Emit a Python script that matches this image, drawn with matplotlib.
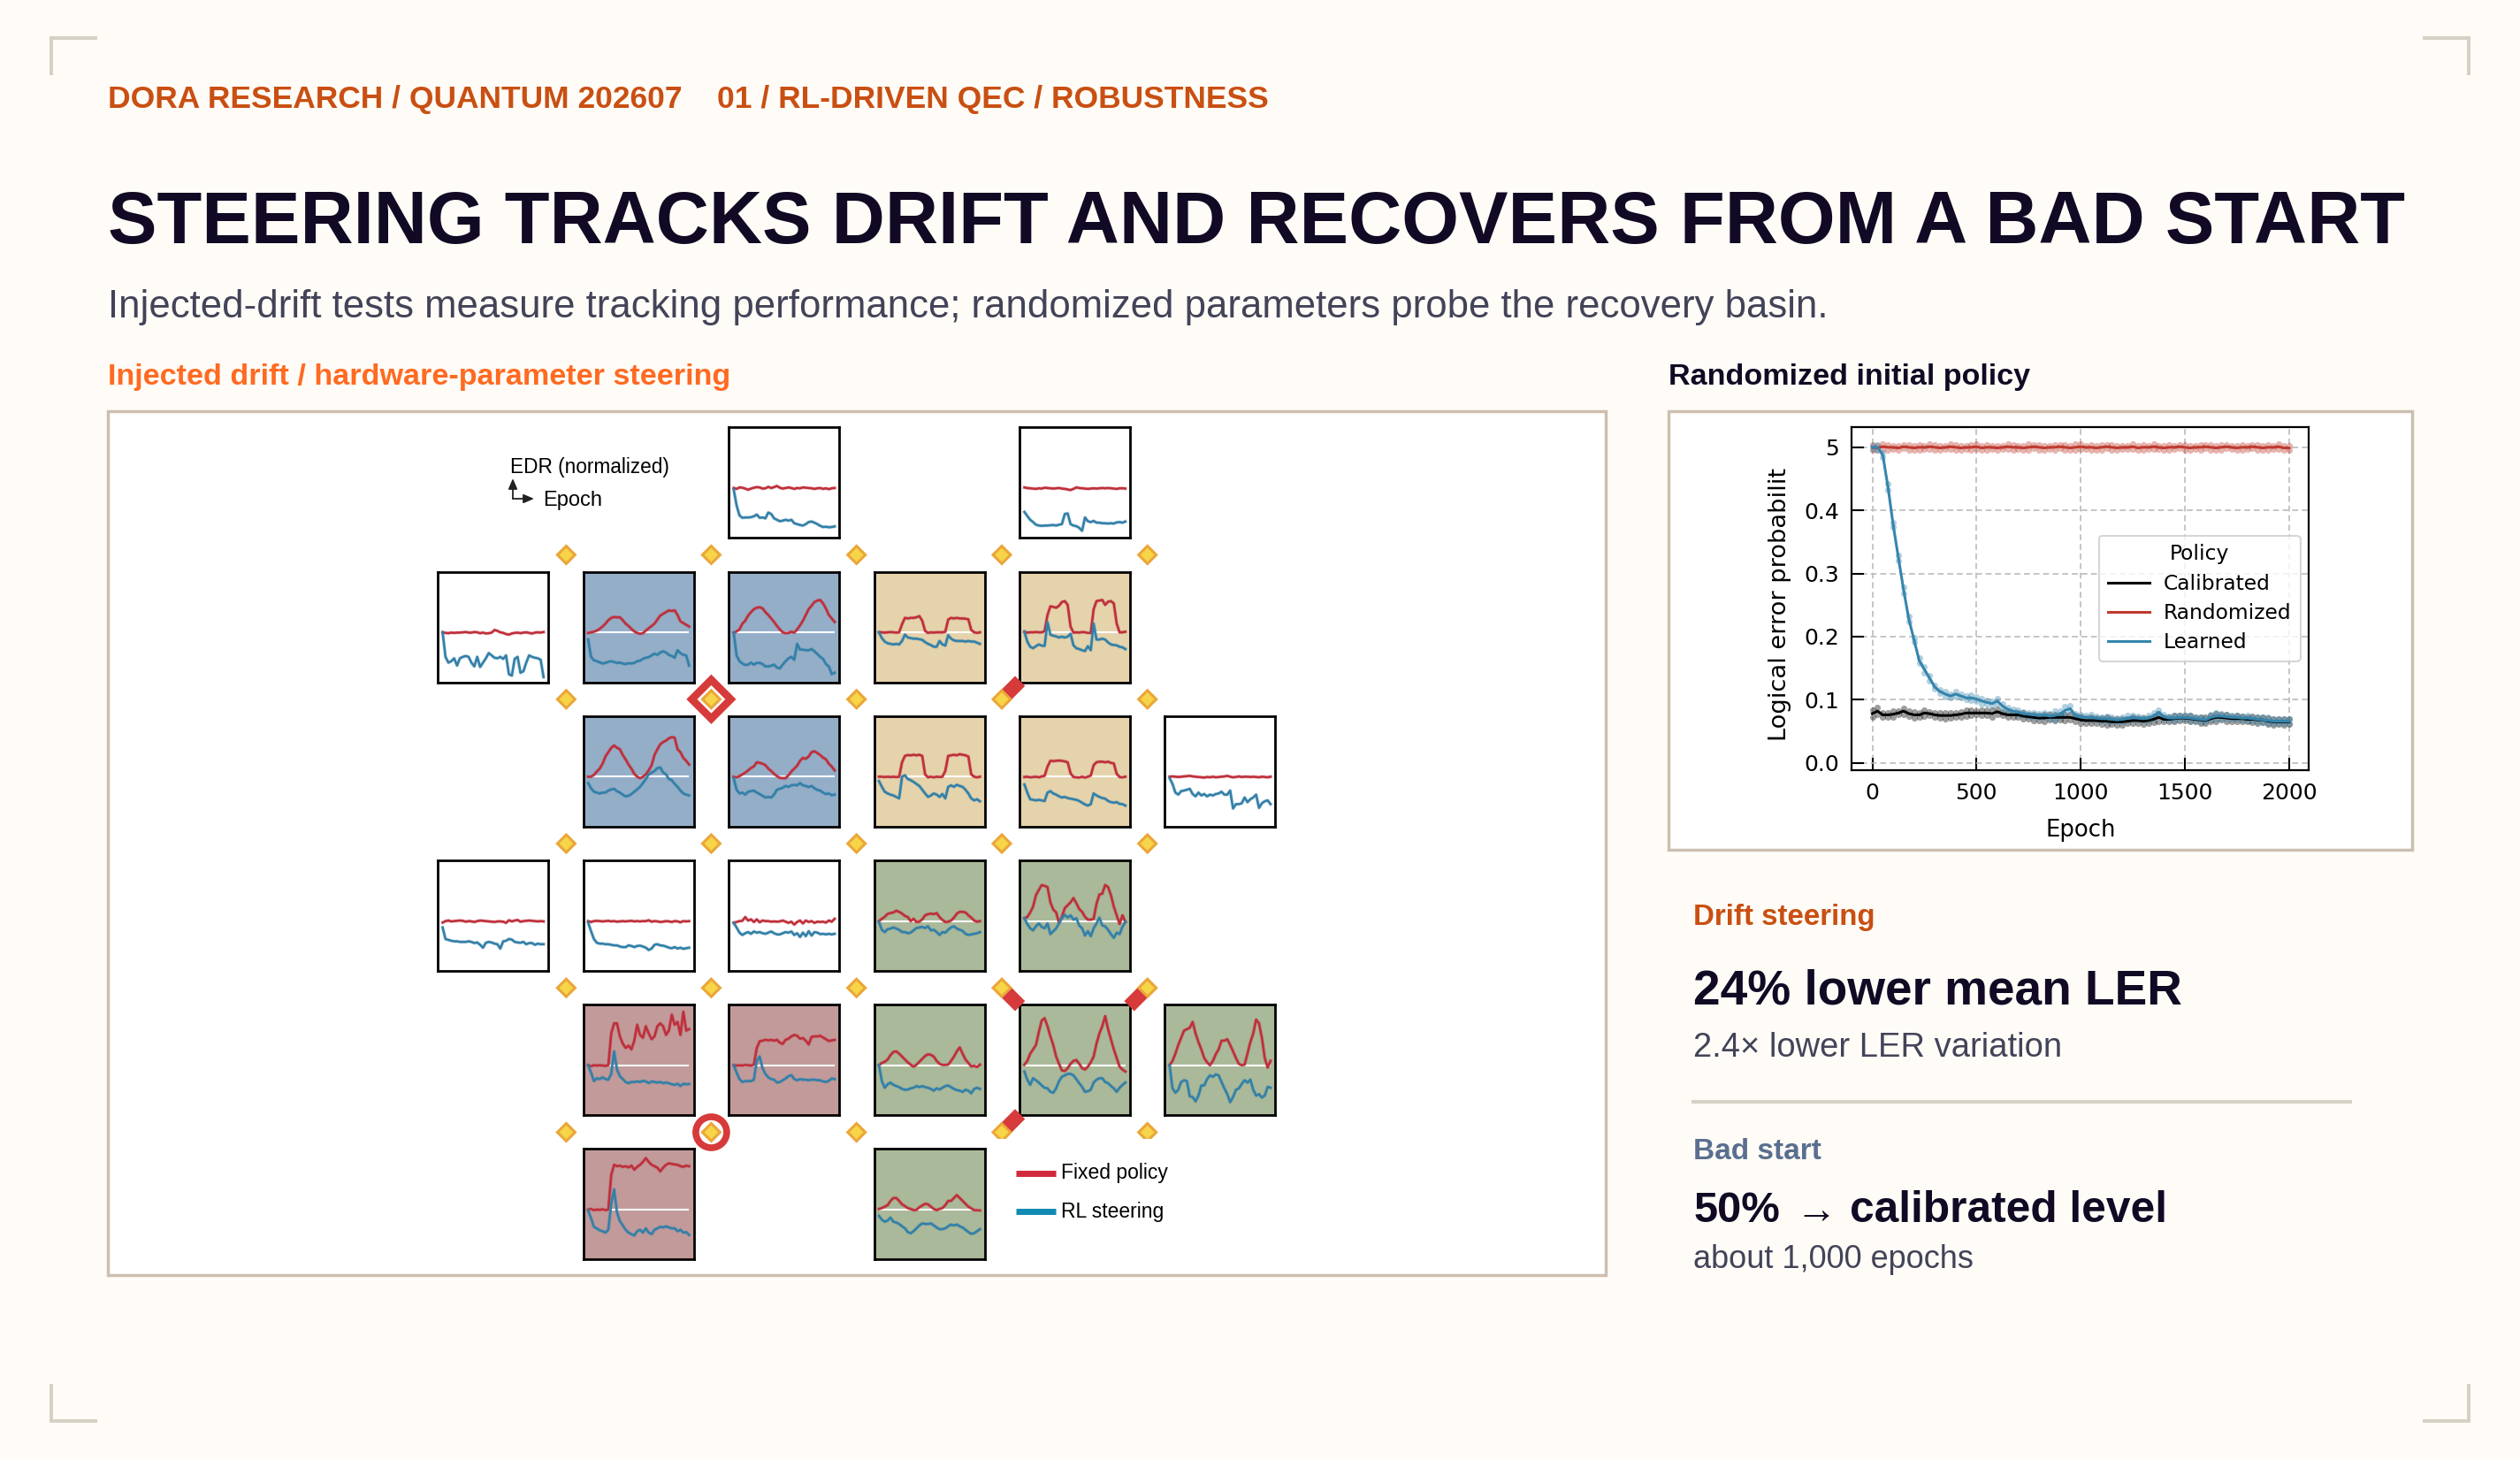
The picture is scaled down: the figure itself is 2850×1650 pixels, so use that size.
import numpy as np
import matplotlib
matplotlib.use('Agg')
import matplotlib.pyplot as plt
from matplotlib.patches import Rectangle, Polygon, Circle

W, H = 2850, 1650
BG = '#FFFCF7'
FRAME = '#CDBFB0'
RULE = '#D5D1C5'
INK = '#120A24'
SLATE = '#434358'
RUST = '#C94F12'
ORANGE = '#FF6A21'
STEEL = '#5A6F8F'
RED_LINE = '#BF2F3B'
BLUE_LINE = '#3380A8'

# traces are in hundredths of the panel's unit, 0 is the calibrated baseline
r0c2_red = [0,-3,2,1,-2,-6,-2,1,3,2,-2,-1,4,0,3,7,1,-2,0,2,0,-3,0,-1,2,1,0,-1,-3,-1,0,-3,-1,-4,-1,0]
r0c2_blue = [-5,-60,-95,-103,-102,-102,-101,-98,-92,-103,-102,-105,-85,-90,-105,-110,-115,-113,-110,-113,-110,-122,-125,-128,-130,-125,-118,-116,-120,-125,-131,-135,-134,-136,-135,-133]
r0c4_red = [2,0,-1,-2,-3,-1,-2,1,0,-1,-2,-1,0,-2,-3,-5,-7,-3,2,0,-1,-2,-3,-2,-1,-2,-1,0,-1,0,-1,-2,-3,-1,-1,-2]
r0c4_blue = [-83,-97,-110,-118,-127,-130,-131,-130,-130,-129,-128,-130,-127,-125,-90,-88,-125,-130,-132,-138,-148,-102,-115,-118,-114,-120,-120,-122,-122,-123,-122,-123,-119,-118,-120,-116]
r1c0_red = [0,-2,-3,-1,-2,-1,-1,0,1,-1,-1,1,0,-3,-1,-4,-3,-1,8,5,0,-2,-6,-8,-4,-2,-1,-3,-1,0,-2,-4,-1,0,-1,1]
r1c0_blue = [0,-85,-105,-100,-90,-115,-90,-85,-82,-85,-105,-118,-85,-120,-105,-90,-72,-80,-88,-90,-85,-92,-80,-145,-150,-92,-85,-140,-135,-105,-80,-85,-88,-90,-95,-155]
r1c1_red = [-2,0,2,6,12,20,30,42,50,53,52,52,42,30,22,12,3,-2,-5,-3,6,14,22,30,44,58,64,70,76,74,76,60,38,32,26,20]
r1c1_blue = [-25,-85,-97,-100,-104,-108,-106,-102,-100,-103,-106,-105,-108,-110,-107,-108,-106,-100,-98,-92,-88,-86,-80,-74,-78,-70,-66,-70,-78,-82,-88,-62,-72,-78,-80,-115]
r1c2_red = [-2,3,10,30,40,58,70,80,85,87,83,70,60,48,36,22,10,0,-3,-2,2,-1,10,24,40,60,80,92,105,110,112,100,82,60,48,36]
r1c2_blue = [0,-80,-100,-108,-113,-112,-105,-112,-106,-106,-110,-118,-118,-116,-112,-122,-125,-112,-100,-90,-85,-95,-40,-60,-60,-62,-62,-58,-66,-75,-85,-92,-110,-118,-145,-140]
r1c3_red = [0,0,-1,0,1,0,-1,0,28,50,48,50,50,52,56,40,5,-2,0,-1,0,0,0,2,44,50,48,50,48,48,47,45,8,0,-2,0]
r1c3_blue = [0,-20,-32,-38,-40,-42,-40,-42,-30,-8,-18,-20,-22,-22,-24,-26,-34,-40,-44,-50,-50,-30,-42,-46,-10,-22,-28,-30,-30,-30,-32,-30,-32,-32,-36,-40]
r1c4_red = [2,-1,0,0,1,0,0,4,60,90,88,85,92,105,108,95,20,-1,0,-1,1,0,-2,-2,80,108,110,112,95,106,108,100,30,0,0,2]
r1c4_blue = [2,-32,-50,-55,-48,-42,-46,-47,35,-8,-12,-14,-18,-15,-18,-15,-5,-45,-55,-58,-62,-65,-48,-62,30,-25,-25,-22,-25,-35,-42,-44,-45,-50,-52,-58]
r2c1_red = [0,0,6,18,28,45,70,85,100,108,100,95,75,60,42,28,10,0,-5,0,8,22,40,75,95,112,120,125,133,137,135,95,85,65,55,42]
r2c1_blue = [-22,-40,-52,-55,-58,-55,-55,-48,-44,-42,-50,-55,-62,-68,-66,-60,-52,-44,-35,-22,-8,8,14,20,30,32,15,8,-8,-12,-25,-35,-48,-58,-62,-65]
r2c2_red = [0,-2,2,8,14,22,30,36,50,48,45,40,28,20,10,2,-4,-5,-5,5,18,28,38,55,65,62,70,85,88,82,75,66,60,45,35,22]
r2c2_blue = [-5,-45,-58,-55,-62,-52,-50,-48,-55,-60,-66,-72,-70,-72,-62,-45,-42,-38,-32,-35,-30,-28,-30,-22,-30,-32,-36,-32,-40,-46,-48,-55,-60,-58,-64,-62]
r2c3_red = [0,0,-1,0,-1,0,-1,0,50,72,75,74,76,74,76,72,8,-2,0,-2,0,-1,0,20,72,74,76,74,78,76,74,70,8,0,-2,0]
r2c3_blue = [-15,-35,-52,-58,-62,-65,-70,-75,0,5,-8,-12,-18,-25,-32,-45,-58,-70,-65,-58,-62,-70,-60,-75,-35,-30,-35,-28,-32,-35,-45,-58,-75,-82,-78,-85]
r2c4_red = [-1,0,-2,-1,0,-2,1,3,35,55,54,55,56,55,53,50,12,-1,-2,-3,0,-3,0,4,40,50,52,52,50,52,48,46,10,-1,-2,0]
r2c4_blue = [-27,-55,-78,-80,-82,-80,-82,-84,-55,-50,-58,-62,-68,-72,-70,-74,-76,-78,-80,-84,-90,-96,-100,-95,-58,-65,-70,-74,-76,-84,-88,-90,-88,-94,-95,-100]
r2c5_red = [0,1,0,-1,0,1,2,3,1,0,-1,-2,-3,-1,-2,0,-2,-1,0,1,3,0,-2,-1,1,-1,0,0,-1,0,-1,-2,0,-1,-2,0]
r2c5_blue = [-5,-25,-55,-62,-50,-48,-45,-42,-60,-68,-55,-65,-60,-68,-62,-65,-60,-58,-52,-62,-62,-48,-110,-95,-95,-92,-72,-88,-78,-72,-62,-108,-92,-85,-82,-95]
r3c0_red = [-5,0,2,-1,0,1,2,1,-2,0,-1,-3,0,2,1,0,-1,-2,-3,-1,-1,-2,-6,3,-1,2,4,-2,0,1,2,1,0,-1,0,-1]
r3c0_blue = [-22,-62,-65,-68,-70,-70,-72,-72,-72,-70,-72,-76,-74,-82,-92,-75,-72,-74,-78,-80,-95,-70,-68,-62,-64,-72,-74,-75,-72,-80,-76,-76,-82,-78,-80,-80]
r3c1_red = [0,-3,0,1,0,-1,0,1,-1,0,-2,-1,0,-1,0,1,-1,0,-1,0,0,3,-2,0,-1,-3,-2,0,-1,-3,0,-1,-4,0,-1,0]
r3c1_blue = [-5,-35,-62,-75,-78,-78,-80,-80,-82,-84,-84,-88,-90,-90,-84,-86,-90,-86,-85,-88,-92,-100,-95,-82,-80,-84,-85,-88,-92,-94,-90,-95,-92,-96,-94,-92]
r3c2_red = [-6,-3,0,1,14,2,6,-3,6,-4,2,0,0,-2,-1,-2,-1,2,-2,-6,-2,-12,-3,2,-8,2,-3,0,-6,-2,-3,-2,-5,2,-2,8]
r3c2_blue = [-6,-22,-40,-48,-42,-38,-44,-36,-40,-38,-42,-44,-40,-36,-42,-46,-46,-42,-38,-40,-36,-48,-42,-55,-40,-52,-35,-50,-38,-40,-45,-44,-46,-44,-46,-44]
r3c3_red = [0,8,15,25,28,30,36,32,26,18,14,0,8,-3,-2,6,20,24,26,24,28,14,4,-3,-2,2,12,26,32,32,30,20,12,2,-2,0]
r3c3_blue = [-3,-30,-38,-28,-26,-22,-26,-30,-38,-38,-42,-40,-32,-24,-22,-20,-24,-18,-32,-30,-38,-48,-38,-40,-30,-22,-18,-26,-30,-34,-44,-48,-46,-44,-42,-38]
r3c4_red = [10,14,30,50,90,108,125,122,118,65,40,30,-6,15,45,55,65,80,62,42,32,15,5,5,8,60,92,95,125,118,90,50,20,-10,20,-3]
r3c4_blue = [10,-10,-25,-32,-18,-8,-20,-25,-8,-45,-35,-25,-8,10,22,12,20,5,10,-15,-25,-50,-35,-52,-25,-8,12,-15,-18,-30,-45,-58,-40,-45,-20,-3]
r4c1_red = [0,-3,0,-1,0,-1,-2,0,110,145,145,100,75,60,68,55,85,140,105,95,135,110,90,100,135,145,135,105,120,175,140,150,105,185,120,125]
r4c1_blue = [0,-25,-55,-45,-48,-42,-48,-50,-30,48,-15,-38,-48,-58,-62,-58,-58,-56,-58,-54,-56,-62,-56,-58,-60,-58,-62,-60,-62,-66,-68,-64,-72,-64,-66,-65]
r4c2_red = [0,-1,0,-1,1,0,-1,2,60,83,85,88,86,88,85,88,78,74,88,92,100,105,102,92,94,85,72,98,100,100,102,96,90,84,86,88]
r4c2_blue = [0,-25,-48,-58,-55,-55,-55,-50,15,30,-10,-30,-42,-48,-50,-60,-58,-52,-46,-38,-34,-48,-52,-48,-50,-50,-52,-50,-50,-52,-52,-56,-58,-54,-46,-48]
r4c3_red = [0,8,12,20,35,46,48,40,30,20,10,2,-5,2,12,22,32,38,36,30,15,5,1,1,2,15,30,48,62,40,20,8,-4,-2,-6,2]
r4c3_blue = [0,-55,-78,-66,-60,-68,-72,-76,-82,-85,-84,-80,-78,-72,-76,-72,-76,-78,-82,-88,-80,-84,-78,-72,-70,-76,-82,-86,-88,-92,-85,-88,-97,-82,-78,-82]
r4c4_red = [2,15,40,55,70,115,155,163,135,100,70,30,5,-18,-20,-10,5,15,18,5,-10,-15,-5,10,30,75,110,135,170,125,90,55,25,-5,-15,-22]
r4c4_blue = [-22,-50,-68,-45,-52,-60,-70,-78,-80,-92,-95,-80,-55,-40,-35,-30,-30,-35,-48,-62,-75,-92,-90,-85,-60,-50,-45,-45,-58,-62,-72,-80,-92,-78,-68,-60]
r4c5_red = [0,15,40,70,95,120,125,130,150,110,80,55,25,10,0,15,38,55,85,85,90,70,48,25,5,0,2,40,80,110,158,145,95,25,-8,15]
r4c5_blue = [0,-80,-95,-85,-58,-52,-55,-108,-110,-125,-105,-70,-70,-48,-35,-40,-32,-35,-58,-80,-100,-128,-110,-85,-80,-65,-52,-60,-50,-85,-105,-100,-112,-105,-75,-78]
r5c1_red = [0,2,-2,0,-1,1,-2,0,120,155,150,152,148,150,146,152,138,148,155,165,178,165,155,150,145,132,145,155,160,158,156,155,150,148,152,150]
r5c1_blue = [-3,-30,-60,-65,-72,-75,-80,-70,20,70,-10,-40,-55,-70,-80,-85,-90,-75,-70,-80,-65,-80,-85,-70,-65,-60,-62,-58,-62,-65,-65,-75,-70,-80,-78,-88]
r5c3_red = [2,5,10,15,30,40,40,30,18,12,5,2,-2,-1,8,14,20,18,10,2,-2,2,5,15,30,30,40,50,40,30,20,10,4,-2,-2,-3]
r5c3_blue = [-22,-35,-42,-38,-28,-42,-45,-50,-58,-65,-78,-82,-75,-65,-55,-48,-50,-50,-48,-55,-62,-68,-68,-65,-58,-52,-55,-52,-58,-62,-70,-78,-84,-82,-75,-68]

# randomized initial policy panel, one value every 25 epochs
policy_names = ['Calibrated', 'Randomized', 'Learned']
calibrated_mean = [.078,.082,.076,.076,.077,.079,.082,.078,.076,.076,.079,.078,.076,.075,.075,.075,.076,.077,.079,.079,.079,.079,.079,.078,.081,.078,.076,.076,.076,.074,.073,.072,.071,.071,.072,.072,.072,.072,.072,.070,.068,.067,.067,.067,.066,.066,.065,.065,.065,.066,.067,.067,.066,.067,.069,.072,.069,.069,.070,.071,.071,.070,.069,.068,.067,.070,.072,.072,.071,.070,.070,.070,.069,.069,.068,.068,.066,.065,.065,.065,.065]
calibrated_spread = [.005,.006,.004,.003,.005,.003,.005,.004,.005,.003,.005,.003,.004,.004,.005,.004,.003,.004,.005,.004,.003,.004,.004,.005,.004,.003,.004,.003,.004,.005,.004,.005,.004,.006,.004,.005,.004,.005,.004,.005,.006,.004,.005,.004,.005,.006,.004,.005,.005,.004,.005,.004,.005,.004,.005,.006,.004,.004,.005,.004,.004,.005,.004,.005,.005,.005,.006,.004,.005,.004,.005,.004,.004,.005,.005,.004,.005,.005,.004,.005,.004]
randomized_mean = [.500,.499,.501,.500,.500,.499,.501,.500,.499,.500,.500,.501,.500,.499,.500,.501,.500,.499,.500,.500,.501,.499,.500,.500,.499,.500,.501,.500,.500,.499,.500,.501,.500,.499,.500,.500,.501,.500,.499,.500,.501,.500,.500,.499,.500,.501,.500,.499,.500,.500,.501,.499,.500,.500,.501,.500,.499,.500,.500,.501,.500,.499,.500,.500,.501,.500,.499,.500,.501,.500,.499,.500,.500,.501,.500,.499,.500,.500,.501,.499,.499]
randomized_spread = [.004,.003,.004,.004,.003,.004,.003,.004,.003,.004,.003,.004,.004,.003,.003,.004,.004,.003,.003,.004,.004,.003,.004,.003,.004,.003,.004,.004,.003,.003,.005,.003,.004,.004,.003,.004,.003,.004,.003,.005,.004,.003,.004,.003,.004,.003,.004,.004,.003,.003,.004,.003,.004,.003,.004,.003,.004,.004,.003,.003,.004,.004,.003,.004,.003,.004,.003,.004,.003,.003,.004,.004,.003,.003,.004,.003,.004,.003,.004,.003,.003]
learned_mean = [.500,.500,.488,.437,.377,.325,.274,.228,.195,.162,.148,.134,.120,.113,.109,.106,.109,.106,.103,.103,.101,.098,.096,.094,.098,.090,.085,.082,.080,.078,.077,.076,.075,.076,.074,.075,.077,.083,.086,.075,.073,.072,.072,.071,.070,.070,.069,.068,.069,.071,.072,.071,.070,.071,.074,.080,.073,.071,.071,.072,.072,.071,.070,.069,.068,.072,.074,.074,.073,.072,.072,.071,.071,.070,.069,.068,.067,.066,.066,.066,.066]
learned_spread = [.003,.004,.004,.005,.004,.004,.005,.004,.004,.004,.005,.004,.003,.003,.004,.003,.004,.003,.003,.004,.003,.004,.003,.003,.004,.003,.003,.003,.003,.003,.003,.003,.003,.003,.004,.007,.005,.006,.004,.003,.004,.003,.004,.003,.003,.004,.003,.003,.003,.004,.003,.003,.003,.004,.005,.004,.003,.003,.004,.003,.003,.004,.003,.003,.003,.004,.005,.004,.004,.003,.003,.003,.004,.003,.003,.004,.005,.003,.004,.003,.003]
x_ticks = [0, 500, 1000, 1500, 2000]
y_ticks = [0.0, 0.1, 0.2, 0.3, 0.4, 0.5]
y_tick_labels = ['0.0', '0.1', '0.2', '0.3', '0.4', '5']

BLUE_BG = '#94AEC8'
TAN_BG = '#E5D3AC'
GREEN_BG = '#AAB999'
ROSE_BG = '#C29A9A'
panels = [
    (0, 2, 'white', r0c2_red, r0c2_blue), (0, 4, 'white', r0c4_red, r0c4_blue),
    (1, 0, 'white', r1c0_red, r1c0_blue), (1, 1, BLUE_BG, r1c1_red, r1c1_blue),
    (1, 2, BLUE_BG, r1c2_red, r1c2_blue), (1, 3, TAN_BG, r1c3_red, r1c3_blue),
    (1, 4, TAN_BG, r1c4_red, r1c4_blue), (2, 1, BLUE_BG, r2c1_red, r2c1_blue),
    (2, 2, BLUE_BG, r2c2_red, r2c2_blue), (2, 3, TAN_BG, r2c3_red, r2c3_blue),
    (2, 4, TAN_BG, r2c4_red, r2c4_blue), (2, 5, 'white', r2c5_red, r2c5_blue),
    (3, 0, 'white', r3c0_red, r3c0_blue), (3, 1, 'white', r3c1_red, r3c1_blue),
    (3, 2, 'white', r3c2_red, r3c2_blue), (3, 3, GREEN_BG, r3c3_red, r3c3_blue),
    (3, 4, GREEN_BG, r3c4_red, r3c4_blue), (4, 1, ROSE_BG, r4c1_red, r4c1_blue),
    (4, 2, ROSE_BG, r4c2_red, r4c2_blue), (4, 3, GREEN_BG, r4c3_red, r4c3_blue),
    (4, 4, GREEN_BG, r4c4_red, r4c4_blue), (4, 5, GREEN_BG, r4c5_red, r4c5_blue),
    (5, 1, ROSE_BG, r5c1_red, r5c1_blue), (5, 3, GREEN_BG, r5c3_red, r5c3_blue),
]

col_x = [493.8, 658.4, 823.0, 987.3, 1151.8, 1316.0]
row_y = [482.0, 645.2, 808.5, 971.8, 1134.8, 1298.0]
PANEL_SIZE = 127.7
dia_x = [640.4, 804.4, 968.7, 1133.0, 1297.7]
dia_y = [627.5, 790.8, 954.0, 1117.2, 1280.5]

plt.rcParams['font.family'] = ['Liberation Sans', 'DejaVu Sans']
fig = plt.figure(figsize=(W / 100, H / 100), dpi=100, facecolor=BG)
renderer = fig.canvas.get_renderer()


def px_axes(zorder):
    a = fig.add_axes([0, 0, 1, 1], zorder=zorder)
    a.set_xlim(0, W)
    a.set_ylim(H, 0)
    a.axis('off')
    a.patch.set_alpha(0)
    return a


def sub_axes(x0, y0, x1, y1, zorder=2):
    return fig.add_axes([x0 / W, 1 - y1 / H, (x1 - x0) / W, (y1 - y0) / H], zorder=zorder)


def txt(a, x, y, s, size, width=None, **kw):
    # size is in pixels, width is the extent the text should span in the picture
    t = a.text(x, y, s, fontsize=size * 0.72, va='baseline', ha=kw.pop('ha', 'left'), **kw)
    if width:
        t.set_fontsize(size * 0.72 * width / t.get_window_extent(renderer).width)
    return t


back = px_axes(0)
top = px_axes(5)

# corner brackets
for cx, cy, sx, sy in [(58, 43, 1, 1), (2792, 43, -1, 1), (58, 1607, 1, -1), (2792, 1607, -1, -1)]:
    back.plot([cx + sx * 52, cx, cx], [cy, cy, cy + sy * 42], color=RULE, lw=2.9,
              solid_joinstyle='miter', solid_capstyle='butt')

# headings
txt(back, 122, 122, 'DORA RESEARCH / QUANTUM 202607    01 / RL-DRIVEN QEC / ROBUSTNESS', 36,
    width=1312, color=RUST, fontweight='bold')
txt(back, 122, 275.5, 'STEERING TRACKS DRIFT AND RECOVERS FROM A BAD START', 80,
    width=2598, color=INK, fontweight='bold')
txt(back, 122, 359, 'Injected-drift tests measure tracking performance; randomized parameters probe the recovery basin.', 44,
    width=1945, color=SLATE)
txt(back, 122, 435.5, 'Injected drift / hardware-parameter steering', 33, width=704, color=ORANGE, fontweight='bold')
txt(back, 1887, 435.5, 'Randomized initial policy', 33, width=409, color=INK, fontweight='bold')

# frames
back.add_patch(Rectangle((122.5, 465), 1693.5, 976.7, fc='white', ec=FRAME, lw=2.5))
back.add_patch(Rectangle((1887.5, 465), 841, 496, fc='white', ec=FRAME, lw=2.5))

# right hand stats
sx0 = 1915.5
txt(back, sx0, 1046, 'Drift steering', 32, width=205, color=RUST, fontweight='bold')
txt(back, sx0, 1135, '24% lower mean LER', 53, width=553, color=INK, fontweight='bold')
txt(back, sx0, 1195, '2.4\u00d7 lower LER variation', 37, width=416, color=SLATE)
back.plot([1913, 2660], [1246, 1246], color=RULE, lw=2.9, solid_capstyle='butt')
txt(back, sx0, 1311, 'Bad start', 32, width=144, color=STEEL, fontweight='bold')
txt(back, sx0, 1382.5, '50%', 48, width=98, color=INK, fontweight='bold')
txt(back, 2030, 1383, '\u2192', 48, width=47, color=INK)
txt(back, 2092.5, 1382.5, 'calibrated level', 48, width=359, color=INK, fontweight='bold')
txt(back, sx0, 1433.5, 'about 1,000 epochs', 37, width=318, color=SLATE)

# lattice of qubit sites
for y in dia_y:
    for x in dia_x:
        back.add_patch(Polygon([(x - 10, y), (x, y - 10), (x + 10, y), (x, y + 10)], fc='#F6D548',
                               ec='#EBA63A', lw=2.2, joinstyle='miter', zorder=2))
back.add_patch(Rectangle((1120, 1287.7), 220, 12, fc='white', ec='none', zorder=3))

# drift panels
for row, col, bg, red, blue in panels:
    x0, y0 = col_x[col], row_y[row]
    pa = sub_axes(x0 + 1.3, y0 + 1.3, x0 + PANEL_SIZE - 1.3, y0 + PANEL_SIZE - 1.3)
    pa.set_facecolor(bg)
    pa.set_xlim(-0.048, 1.048)
    pa.set_ylim(-173, 210)
    pa.set_xticks([])
    pa.set_yticks([])
    for s in pa.spines.values():
        s.set_linewidth(2.0)
        s.set_color('black')
    pa.plot([0, 1], [0, 0], color='white', lw=1.5, solid_capstyle='butt')
    for vals, color in ((red, RED_LINE), (blue, BLUE_LINE)):
        xs = np.linspace(0, 1, len(vals))
        pa.plot(xs, vals, color=color, lw=3.0, alpha=0.22, solid_joinstyle='round')
        pa.plot(xs, vals, color=color, lw=1.9, solid_joinstyle='round')

# markers on the lattice, drawn over the panels
RED_MARK = '#D63A3A'
hx, hy = dia_x[1], dia_y[1]
top.add_patch(Polygon([(hx - 22, hy), (hx, hy - 22), (hx + 22, hy), (hx, hy + 22)], fill=False,
                      ec=RED_MARK, lw=6.2, joinstyle='miter'))
top.add_patch(Circle((dia_x[1], dia_y[4]), 17.5, fill=False, ec=RED_MARK, lw=5.5))
for i, j, sx, sy in [(3, 1, 1, -1), (3, 3, 1, 1), (4, 3, -1, 1), (3, 4, 1, -1)]:
    cx, cy = dia_x[i] + sx * 13.3, dia_y[j] + sy * 13.3
    ux, uy = sx * 0.707, sy * 0.707
    vx, vy = -uy, ux
    top.add_patch(Polygon([(cx + ux * 10.4 + vx * 8, cy + uy * 10.4 + vy * 8),
                           (cx + ux * 10.4 - vx * 8, cy + uy * 10.4 - vy * 8),
                           (cx - ux * 10.4 - vx * 8, cy - uy * 10.4 - vy * 8),
                           (cx - ux * 10.4 + vx * 8, cy - uy * 10.4 + vy * 8)], fc=RED_MARK, ec='none'))

# inset key and legend
txt(top, 577, 535.5, 'EDR (normalized)', 24, width=180, color='black')
txt(top, 614, 572, 'Epoch', 24, width=67, color='black')
arrow = dict(arrowstyle='-|>,head_width=0.3,head_length=0.7', color='#222222', lw=1.3, shrinkA=0, shrinkB=0)
top.annotate('', xy=(580, 541), xytext=(580, 564), arrowprops=arrow)
top.annotate('', xy=(604, 564), xytext=(580, 564), arrowprops=arrow)
top.plot([1149, 1194], [1327, 1327], color='#D1293D', lw=5, solid_capstyle='butt')
top.plot([1149, 1194], [1370, 1370], color='#118AB2', lw=5, solid_capstyle='butt')
txt(top, 1200, 1333, 'Fixed policy', 24, width=121, color='black')
txt(top, 1200, 1377, 'RL steering', 24, width=116, color='black')

# learning curves
dj = 'DejaVu Sans'
ax = sub_axes(2094, 483, 2611, 870.7, zorder=3)
ax.set_xlim(-100, 2095)
ax.set_ylim(-0.0112, 0.532)
ax.grid(True, color='#BBBBBB', lw=1.2, ls=(0, (4, 2.5)))
ax.set_axisbelow(True)
series = [(calibrated_mean, calibrated_spread, 'black'),
          (randomized_mean, randomized_spread, '#BE3A2E'),
          (learned_mean, learned_spread, '#3585AD')]
for name, (mean, spread, color) in zip(policy_names, series):
    mean = np.array(mean)
    spread = np.array(spread)
    epochs = np.linspace(0, 2000, len(mean))
    ax.scatter(epochs, mean + spread, s=26, color=color, alpha=0.38, lw=0, zorder=2)
    ax.scatter(epochs, mean - spread, s=26, color=color, alpha=0.38, lw=0, zorder=2)
    ax.plot(epochs, mean, color=color, lw=2.2, label=name, zorder=3)
ax.set_xticks(x_ticks)
ax.set_yticks(y_ticks)
ax.set_yticklabels(y_tick_labels)
ax.tick_params(direction='in', length=10, width=1.5, labelsize=18, pad=10)
for lab in ax.get_xticklabels() + ax.get_yticklabels():
    lab.set_family(dj)
for s in ax.spines.values():
    s.set_linewidth(1.6)
leg = ax.legend(title='Policy', loc='upper left', bbox_to_anchor=(2373.7 / W, 1 - 605.7 / H),
                bbox_transform=fig.transFigure, borderaxespad=0, prop={'family': dj, 'size': 16.8},
                title_fontproperties={'family': dj, 'size': 16.8}, handlelength=2.05, handletextpad=0.68,
                labelspacing=0.44, borderpad=0.42, fancybox=True, framealpha=0.8, edgecolor='#CCCCCC')
leg.get_frame().set_linewidth(1.5)
txt(top, 2353, 946, 'Epoch', 26, color='black', ha='center', family=dj)
txt(top, 2020, 683, 'Logical error probabilit', 27.2, color='black', ha='center', family=dj,
    rotation=90, rotation_mode='anchor')

fig.savefig('out.png', dpi=100, facecolor=BG)
